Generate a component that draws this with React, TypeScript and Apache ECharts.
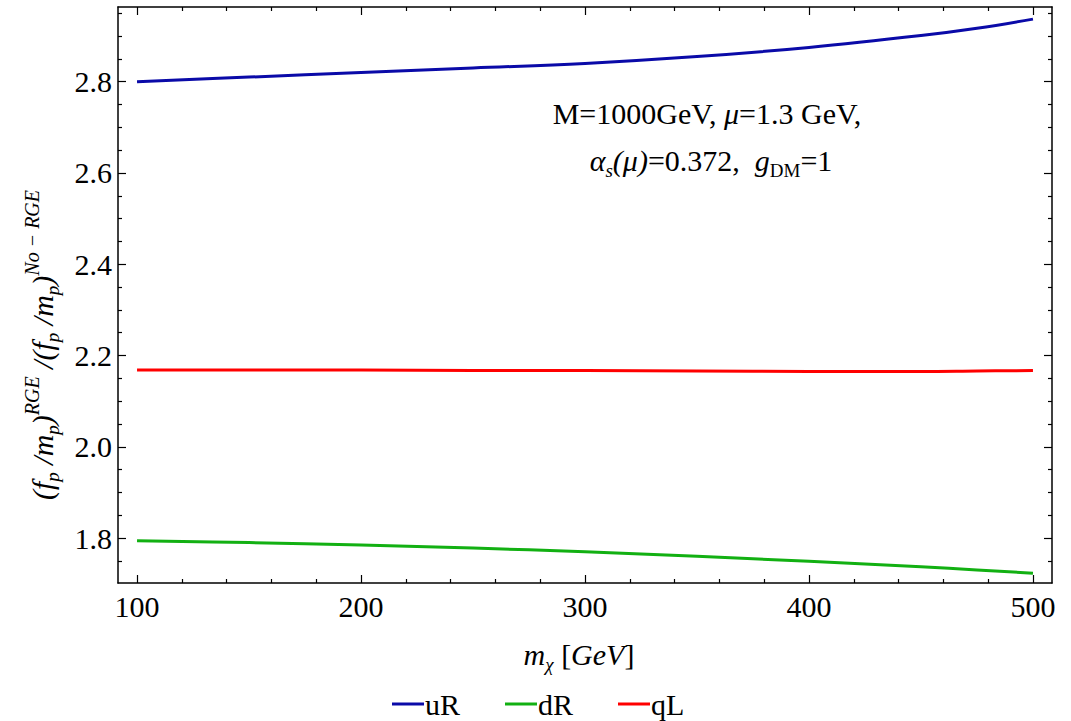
import React, { useEffect, useRef } from "react";
import * as echarts from "echarts";

const mChi = [100, 150, 200, 250, 300, 350, 400, 450, 475, 500];
const uR = [2.8, 2.81, 2.82, 2.83, 2.84, 2.855, 2.875, 2.901, 2.917, 2.937];
const dR = [1.794, 1.79, 1.785, 1.778, 1.77, 1.76, 1.749, 1.737, 1.73, 1.723];
const qL = [2.168, 2.168, 2.168, 2.167, 2.167, 2.166, 2.165, 2.165, 2.166, 2.167];

const xMajor = [100, 200, 300, 400, 500];
const xMinor = [120, 140, 160, 180, 220, 240, 260, 280, 320, 340, 360, 380, 420, 440, 460, 480];
const yMajor = [1.8, 2.0, 2.2, 2.4, 2.6, 2.8];
const yMinor = [1.75, 1.85, 1.9, 1.95, 2.05, 2.1, 2.15, 2.25, 2.3, 2.35, 2.45, 2.5, 2.55, 2.65, 2.7, 2.75, 2.85, 2.9, 2.95];

const X_MIN = 91.5;
const X_MAX = 508.5;
const Y_MIN = 1.7015;
const Y_MAX = 2.9636;

const FONT = "'Liberation Serif', 'Times New Roman', serif";

export default function App() {
  const ref = useRef<HTMLDivElement>(null);
  useEffect(() => {
    const chart = echarts.init(ref.current!, null, { renderer: "svg" });
    const lineStyle = { color: "#000", width: 1.5 };
    const mkX = (pos: string, major: boolean, labels: boolean) => ({
      type: "value",
      gridIndex: 0,
      position: pos,
      min: X_MIN,
      max: X_MAX,
      axisLine: { show: major, onZero: false, lineStyle },
      axisTick: {
        show: true,
        inside: true,
        length: major ? 8 : 4,
        customValues: major ? xMajor : xMinor,
        lineStyle: { color: "#000", width: 1.2 },
      },
      axisLabel: labels
        ? { show: true, customValues: xMajor, fontSize: 30, fontFamily: FONT, color: "#000", margin: 8 }
        : { show: false },
      splitLine: { show: false },
    });
    const mkY = (pos: string, major: boolean, labels: boolean) => ({
      type: "value",
      gridIndex: 0,
      position: pos,
      min: Y_MIN,
      max: Y_MAX,
      axisLine: { show: major, onZero: false, lineStyle },
      axisTick: {
        show: true,
        inside: true,
        length: major ? 8 : 4,
        customValues: major ? yMajor : yMinor,
        lineStyle: { color: "#000", width: 1.2 },
      },
      axisLabel: labels
        ? {
            show: true,
            customValues: yMajor,
            fontSize: 30,
            fontFamily: FONT,
            color: "#000",
            margin: 6,
            formatter: (v: number) => v.toFixed(1),
          }
        : { show: false },
      splitLine: { show: false },
    });
    const mkSeries = (name: string, data: number[], color: string) => ({
      name,
      type: "line",
      xAxisIndex: 0,
      yAxisIndex: 0,
      data: mChi.map((x, i) => [x, data[i]]),
      smooth: 0.4,
      showSymbol: false,
      symbol: "none",
      lineStyle: { color, width: 3 },
      itemStyle: { color },
    });
    const sub = { fontSize: 19, fontFamily: FONT, fontStyle: "italic", color: "#000", verticalAlign: "bottom", lineHeight: 40 };
    const sup = { fontSize: 20, fontFamily: FONT, fontStyle: "italic", color: "#000", verticalAlign: "top", lineHeight: 40 };
    const it = { fontSize: 30, fontFamily: FONT, fontStyle: "italic", color: "#000", lineHeight: 40 };
    const rm = { fontSize: 30, fontFamily: FONT, color: "#000", lineHeight: 40 };
    const subRm = { fontSize: 19, fontFamily: FONT, color: "#000", verticalAlign: "bottom", lineHeight: 40 };
    chart.setOption({
      animation: false,
      backgroundColor: "#fff",
      grid: { left: 118, right: 19, top: 7, bottom: 138, containLabel: false },
      xAxis: [mkX("bottom", true, true), mkX("bottom", false, false), mkX("top", true, false), mkX("top", false, false)],
      yAxis: [mkY("left", true, true), mkY("left", false, false), mkY("right", true, false), mkY("right", false, false)],
      legend: {
        left: 392,
        top: 689,
        padding: 0,
        itemWidth: 32,
        itemHeight: 3,
        itemGap: 34,
        icon: "rect",
        textStyle: { fontSize: 30, lineHeight: 30, width: 46, fontFamily: FONT, color: "#000", padding: [0, 0, 0, -4] },
        data: ["uR", "dR", "qL"],
      },
      series: [mkSeries("uR", uR, "#0a0aa8"), mkSeries("dR", dR, "#12b012"), mkSeries("qL", qL, "#ff0000")],
      graphic: [
        {
          type: "text",
          x: 707,
          y: 113,
          style: {
            text: "{rm|M=1000GeV, }{it|μ}{rm|=1.3 GeV,}",
            align: "center",
            verticalAlign: "middle",
            rich: { rm, it },
          },
        },
        {
          type: "text",
          x: 711,
          y: 160,
          style: {
            text: "{it|α}{sub|s}{it|(μ)}{rm|=0.372,  }{it|g}{subRm|DM}{rm|=1}",
            align: "center",
            verticalAlign: "middle",
            rich: { rm, it, sub, subRm },
          },
        },
        {
          type: "text",
          x: 579,
          y: 654,
          style: {
            text: "{it|m}{sub|χ}{it| }{rm|[}{it|GeV}{rm|]}",
            align: "center",
            verticalAlign: "middle",
            rich: { it, sub, rm },
          },
        },
        {
          type: "text",
          x: 42,
          y: 345,
          rotation: Math.PI / 2,
          style: {
            text:
              "{it|(f}{sub|p}{it| /m}{sub|p}{it|)}{sup|RGE}{it| /(f}{sub|p}{it| /m}{sub|p}{it|)}{sup|No − RGE}",
            align: "center",
            verticalAlign: "middle",
            rich: { it, sub, sup },
          },
        },
      ],
    });
    return () => chart.dispose();
  }, []);
  return <div ref={ref} style={{ position: "absolute", left: 0, top: 0, width: 1071, height: 721 }} />;
}
